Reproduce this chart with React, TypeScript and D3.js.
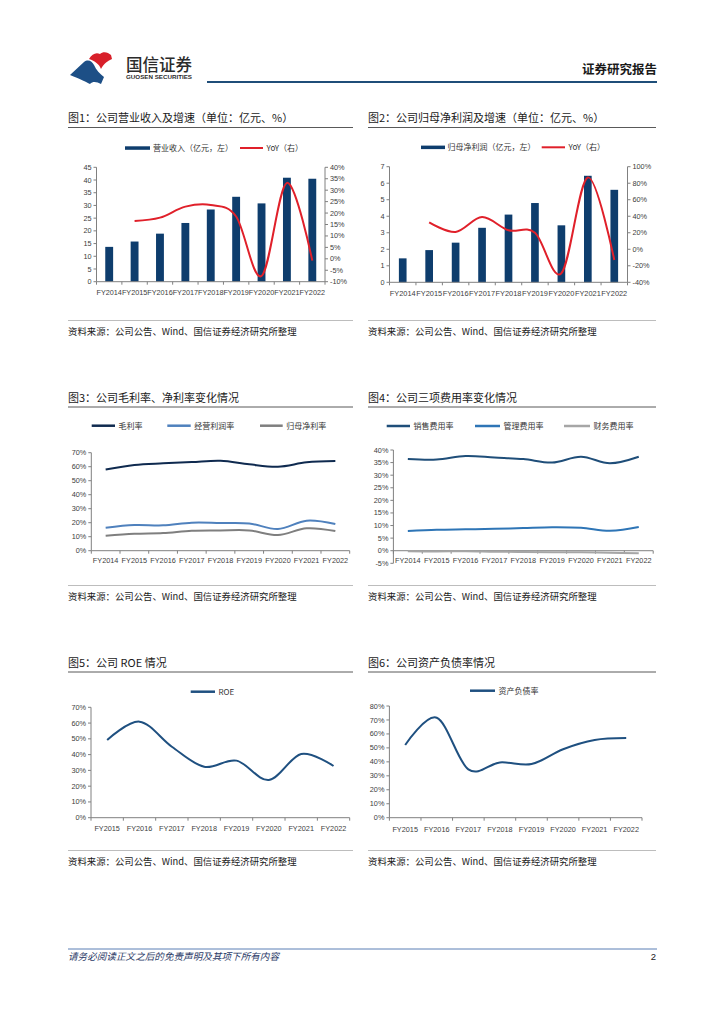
import React from 'react';
import * as d3 from 'd3';

// ---------------- DATA ----------------
const YEARS_A = ['FY2014', 'FY2015', 'FY2016', 'FY2017', 'FY2018', 'FY2019', 'FY2020', 'FY2021', 'FY2022'];
const YEARS_B = ['FY2015', 'FY2016', 'FY2017', 'FY2018', 'FY2019', 'FY2020', 'FY2021', 'FY2022'];

const revenue = [13.7, 15.8, 18.9, 23.1, 28.4, 33.4, 30.8, 40.9, 40.5];
const revenueYoY: (number | null)[] = [null, 16.5, 18, 22.8, 23.5, 18.5, -7.5, 33.2, -0.8];
const netProfit = [1.45, 1.95, 2.4, 3.3, 4.1, 4.8, 3.45, 6.45, 5.6];
const netProfitYoY: (number | null)[] = [null, 32.6, 21, 39, 23, 20, -29, 87, -13];

const grossMargin = [58, 61.2, 62.4, 63.3, 64.3, 61.7, 60, 63.1, 64];
const opMargin = [16.4, 18.3, 18.1, 20, 19.8, 19.5, 15.5, 21.4, 19];
const netMargin = [10.7, 12.1, 12.6, 14.3, 14.5, 14.5, 11.2, 16, 14];

const sellingRate = [36.4, 36.2, 37.6, 37, 36.4, 35, 37.3, 34.7, 37.3];
const adminRate = [7.8, 8.3, 8.5, 8.7, 9, 9.3, 9.1, 7.9, 9.4];
const financeRate = [-0.2, -0.3, -0.2, -0.4, -0.5, -0.6, -0.6, -0.8, -1.0];

const roe = [49.3, 60.9, 45, 32.3, 36.2, 23.9, 40.4, 32.8];
const debtRatio = [52.1, 71.6, 34.6, 39.6, 38.4, 49, 55.6, 57];

const TITLES = [
  '图1：公司营业收入及增速（单位：亿元、%）',
  '图2：公司归母净利润及增速（单位：亿元、%）',
  '图3：公司毛利率、净利率变化情况',
  '图4：公司三项费用率变化情况',
  '图5：公司 ROE 情况',
  '图6：公司资产负债率情况',
];
const SOURCE = '资料来源：公司公告、Wind、国信证券经济研究所整理';
const FOOTER = '请务必阅读正文之后的免责声明及其项下所有内容';

// ---------------- STYLE ----------------
const LATIN = "'Liberation Sans', Arial, 'Noto Sans CJK SC', sans-serif";
const CJK = "'Noto Sans CJK SC', 'Liberation Sans', sans-serif";
const AX = '#808080';
const TK = '#404040';
const NAVY = '#0e3d6d';
const RED = '#e0202a';
const smooth = d3.curveCardinal.tension(0);

type Geo = { x0: number; x1: number; yt: number; yb: number };

function Title({ x, y, w, text }: { x: number; y: number; w: number; text: string }) {
  return (
    <g>
      <text x={x} y={y} fontSize={11} fontFamily={CJK} fill="#1a1a1a">{text}</text>
      <line x1={x} x2={x + w} y1={y + 5.5} y2={y + 5.5} stroke="#595959" strokeWidth={1} />
    </g>
  );
}

function Source({ x, y, w }: { x: number; y: number; w: number }) {
  return (
    <g>
      <line x1={x} x2={x + w} y1={y - 14} y2={y - 14} stroke="#a0a0a0" strokeWidth={0.7} />
      <text x={x} y={y} fontSize={9.4} fontFamily={CJK} fill="#1a1a1a">{SOURCE}</text>
    </g>
  );
}

function XAxis({ g, cats, y, labelY, fs }: { g: Geo; cats: string[]; y: number; labelY: number; fs: number }) {
  const x = d3.scaleBand().domain(cats).range([g.x0, g.x1]);
  const bw = x.bandwidth();
  return (
    <g>
      <line x1={g.x0} x2={g.x1} y1={y} y2={y} stroke={AX} strokeWidth={1} />
      {d3.range(cats.length + 1).map((i) => (
        <line key={i} x1={g.x0 + i * bw} x2={g.x0 + i * bw} y1={y} y2={y + 3} stroke={AX} strokeWidth={1} />
      ))}
      {cats.map((c) => (
        <text key={c} x={(x(c) as number) + bw / 2} y={labelY} fontSize={fs} fontFamily={LATIN} fill={TK} textAnchor="middle">{c}</text>
      ))}
    </g>
  );
}

function YAxis({ g, scale, ticks, fmt, side }: { g: Geo; scale: d3.ScaleLinear<number, number>; ticks: number[]; fmt: (v: number) => string; side: 'left' | 'right' }) {
  const ax = side === 'left' ? g.x0 : g.x1;
  const dir = side === 'left' ? -1 : 1;
  return (
    <g>
      <line x1={ax} x2={ax} y1={g.yt} y2={g.yb} stroke={AX} strokeWidth={1} />
      {ticks.map((t) => (
        <g key={t}>
          <line x1={ax} x2={ax + dir * 3} y1={scale(t)} y2={scale(t)} stroke={AX} strokeWidth={1} />
          <text x={ax + dir * 5} y={scale(t)} dy="0.35em" fontSize={7.3} fontFamily={LATIN} fill={TK} textAnchor={side === 'left' ? 'end' : 'start'}>{fmt(t)}</text>
        </g>
      ))}
    </g>
  );
}

function LegendLine({ x1, x2, y, color, label, w = 2.5 }: { x1: number; x2: number; y: number; color: string; label: string; w?: number }) {
  return (
    <g>
      <line x1={x1} x2={x2} y1={y} y2={y} stroke={color} strokeWidth={w} />
      <text x={x2 + 3.5} y={y} dy="0.36em" fontSize={8} fontFamily={CJK} fill="#333">{label}</text>
    </g>
  );
}

function BarLine({ g, bars, yoy, lMax, lStep, rMin, rMax, rStep, barFrac, labelY, fs, legend }: any) {
  const x = d3.scaleBand().domain(YEARS_A).range([g.x0, g.x1]);
  const bw = x.bandwidth();
  const yl = d3.scaleLinear().domain([0, lMax]).range([g.yb, g.yt]);
  const yr = d3.scaleLinear().domain([rMin, rMax]).range([g.yb, g.yt]);
  const pts: [number, number][] = [];
  YEARS_A.forEach((c, i) => {
    if (yoy[i] != null) pts.push([(x(c) as number) + bw / 2, yr(yoy[i])]);
  });
  const path = d3.line().curve(smooth)(pts) || '';
  const w = bw * barFrac;
  return (
    <g>
      {legend}
      <YAxis g={g} scale={yl} ticks={d3.range(0, lMax + 0.001, lStep)} fmt={(v) => String(v)} side="left" />
      <YAxis g={g} scale={yr} ticks={d3.range(rMin, rMax + 0.001, rStep)} fmt={(v) => `${v}%`} side="right" />
      {YEARS_A.map((c, i) => (
        <rect key={c} x={(x(c) as number) + bw / 2 - w / 2} y={yl(bars[i])} width={w} height={yl(0) - yl(bars[i])} fill={NAVY} />
      ))}
      <XAxis g={g} cats={YEARS_A} y={g.yb} labelY={labelY} fs={fs} />
      <path d={path} fill="none" stroke={RED} strokeWidth={2} />
    </g>
  );
}

function Lines({ g, cats, series, min, max, step, zeroAxis, labelY }: any) {
  const x = d3.scaleBand().domain(cats).range([g.x0, g.x1]);
  const bw = x.bandwidth();
  const y = d3.scaleLinear().domain([min, max]).range([g.yb, g.yt]);
  const gen = d3.line<number>().x((_, i) => (x(cats[i]) as number) + bw / 2).y((v) => y(v)).curve(smooth);
  return (
    <g>
      <YAxis g={g} scale={y} ticks={d3.range(min, max + 0.001, step)} fmt={(v) => `${Math.round(v)}%`} side="left" />
      <XAxis g={g} cats={cats} y={zeroAxis ? y(0) : g.yb} labelY={labelY} fs={7.3} />
      {series.map((s: any, i: number) => (
        <path key={i} d={gen(s.data) || ''} fill="none" stroke={s.color} strokeWidth={2} />
      ))}
    </g>
  );
}

function Header() {
  return (
    <g>
      <path d="M70,75 L84,62 C88,59 92,61 94,65 C96,70 100,74 104,77 L101,84 C97,82 93,81 90,84 C86,82 80,79 70,75 Z" fill="#1d4f86" />
      <path d="M89,59 C92,54 96,52 100,54 C103,51 108,52 111,55 L112,59 C108,61 104,63 101,69 C99,64 95,61 89,59 Z" fill="#d8202a" />
      <text x={126} y={70.5} fontSize={16.5} fontFamily={CJK} fontWeight={500} fill="#2b2b2b">国信证券</text>
      <text x={126} y={79} fontSize={6} fontFamily={LATIN} fontWeight={700} fill="#2b2b2b" textLength={66} lengthAdjust="spacingAndGlyphs">GUOSEN SECURITIES</text>
      <line x1={207} x2={657} y1={82} y2={82} stroke="#1f4e79" strokeWidth={2} />
      <text x={657} y={74} fontSize={12.5} fontFamily={CJK} fontWeight={700} fill="#1a1a1a" textAnchor="end">证券研究报告</text>
    </g>
  );
}

export default function App() {
  const g1: Geo = { x0: 96.5, x1: 325, yt: 167.3, yb: 281.7 };
  const g2: Geo = { x0: 389.5, x1: 627.5, yt: 166.7, yb: 282.3 };
  const g3: Geo = { x0: 91.3, x1: 349.7, yt: 452.7, yb: 550.7 };
  const g4: Geo = { x0: 393.4, x1: 653.2, yt: 450, yb: 563.3 };
  const g5: Geo = { x0: 91, x1: 349.7, yt: 707.3, yb: 817.7 };
  const g6: Geo = { x0: 389.4, x1: 642, yt: 706, yb: 817.7 };
  return (
    <svg width={724} height={1024} style={{ position: 'absolute', left: 0, top: 0 }}>
      <rect width={724} height={1024} fill="#fff" />
      <Header />

      <Title x={68} y={122} w={285} text={TITLES[0]} />
      <Title x={368} y={122} w={288} text={TITLES[1]} />
      <Title x={68} y={401.5} w={285} text={TITLES[2]} />
      <Title x={368} y={401.5} w={288} text={TITLES[3]} />
      <Title x={68} y={666.5} w={285} text={TITLES[4]} />
      <Title x={368} y={666.5} w={288} text={TITLES[5]} />

      {/* Chart 1 */}
      <BarLine g={g1} bars={revenue} yoy={revenueYoY} lMax={45} lStep={5} rMin={-10} rMax={40} rStep={5} barFrac={0.31} labelY={294.8} fs={7.25}
        legend={<g>
          <rect x={125} y={146.3} width={25} height={3.5} fill={NAVY} />
          <text x={153} y={148} dy="0.36em" fontSize={8} fontFamily={CJK} fill="#333">营业收入（亿元，左）</text>
          <LegendLine x1={240} x2={263} y={148} color={RED} label="YoY（右）" w={2} />
        </g>} />

      {/* Chart 2 */}
      <BarLine g={g2} bars={netProfit} yoy={netProfitYoY} lMax={7} lStep={1} rMin={-40} rMax={100} rStep={20} barFrac={0.29} labelY={295.8} fs={7.4}
        legend={<g>
          <rect x={421} y={145.6} width={24} height={3.5} fill={NAVY} />
          <text x={447.5} y={147.3} dy="0.36em" fontSize={8} fontFamily={CJK} fill="#333">归母净利润（亿元，左）</text>
          <LegendLine x1={541.7} x2={565} y={147.3} color={RED} label="YoY（右）" w={2} />
        </g>} />

      {/* Chart 3 */}
      <LegendLine x1={91.7} x2={115} y={425.7} color="#0f2a4f" label="毛利率" />
      <LegendLine x1={167.3} x2={190.7} y={425.7} color="#4f81bd" label="经营利润率" />
      <LegendLine x1={260} x2={282.7} y={425.7} color="#7f7f7f" label="归母净利率" />
      <Lines g={g3} cats={YEARS_A} min={0} max={70} step={10} labelY={563.3}
        series={[
          { data: grossMargin, color: '#0f2a4f' },
          { data: opMargin, color: '#4f81bd' },
          { data: netMargin, color: '#7f7f7f' },
        ]} />

      {/* Chart 4 */}
      <LegendLine x1={386.7} x2={410} y={426} color="#1f4e79" label="销售费用率" />
      <LegendLine x1={475} x2={500} y={426} color="#2e75b6" label="管理费用率" />
      <LegendLine x1={564} x2={590} y={426} color="#a6a6a6" label="财务费用率" />
      <Lines g={g4} cats={YEARS_A} min={-5} max={40} step={5} zeroAxis labelY={562.8}
        series={[
          { data: sellingRate, color: '#1f4e79' },
          { data: adminRate, color: '#2e75b6' },
          { data: financeRate, color: '#a6a6a6' },
        ]} />

      {/* Chart 5 */}
      <LegendLine x1={190.7} x2={215} y={691.7} color="#1f5080" label="ROE" />
      <Lines g={g5} cats={YEARS_B} min={0} max={70} step={10} labelY={831}
        series={[{ data: roe, color: '#1f5080' }]} />

      {/* Chart 6 */}
      <LegendLine x1={470} x2={495} y={690.7} color="#1f5080" label="资产负债率" />
      <Lines g={g6} cats={YEARS_B} min={0} max={80} step={10} labelY={831.7}
        series={[{ data: debtRatio, color: '#1f5080' }]} />

      <Source x={68} y={334.5} w={285} />
      <Source x={368} y={334.5} w={288} />
      <Source x={68} y={599.5} w={285} />
      <Source x={368} y={599.5} w={288} />
      <Source x={68} y={864.5} w={285} />
      <Source x={368} y={864.5} w={288} />

      {/* Footer */}
      <line x1={68} x2={657} y1={949} y2={949} stroke="#5b7fb5" strokeWidth={1} />
      <text x={68} y={960} fontSize={9.6} fontFamily={CJK} fontStyle="italic" fill="#2b3a67">{FOOTER}</text>
      <text x={656} y={960} fontSize={9.5} fontFamily={LATIN} fill="#1a1a1a" textAnchor="end">2</text>
    </svg>
  );
}
